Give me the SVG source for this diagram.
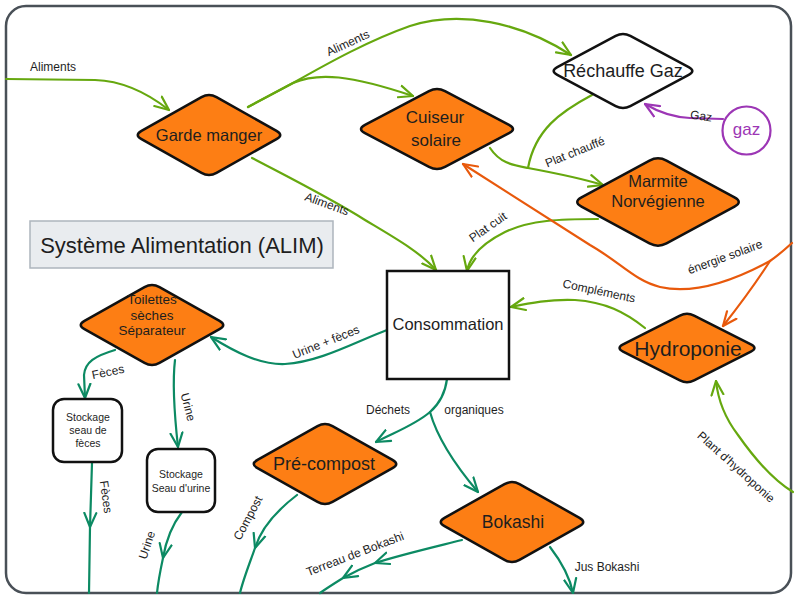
<svg xmlns="http://www.w3.org/2000/svg" width="800" height="601" viewBox="0 0 800 601">
<style>
text{font-family:"Liberation Sans",Arial,sans-serif;fill:#1e1e1e;}
.lbl{font-size:12px;text-anchor:middle;}
.nt{text-anchor:middle;}
.node{fill:#fd7e14;stroke:#111;stroke-width:2.5;stroke-linejoin:round;}
.wnode{fill:#fff;stroke:#111;stroke-width:2.5;stroke-linejoin:round;}
.e{fill:none;stroke-width:2.2;stroke-linecap:round;stroke-linejoin:round;}
.g{stroke:#66a80f;}
.t{stroke:#0c8a63;}
.r{stroke:#e8590c;}
.p{stroke:#9c36b5;}
</style>
<defs>
<marker id="ag" viewBox="0 0 16 16" refX="15" refY="8" markerWidth="16" markerHeight="16" markerUnits="userSpaceOnUse" orient="auto"><path d="M1,2 L15,8 L1,14" fill="none" stroke="#66a80f" stroke-width="2.2" stroke-linecap="round" stroke-linejoin="round"/></marker>
<marker id="at" viewBox="0 0 16 16" refX="15" refY="8" markerWidth="16" markerHeight="16" markerUnits="userSpaceOnUse" orient="auto"><path d="M1,2 L15,8 L1,14" fill="none" stroke="#0c8a63" stroke-width="2.2" stroke-linecap="round" stroke-linejoin="round"/></marker>
<marker id="ar" viewBox="0 0 16 16" refX="15" refY="8" markerWidth="16" markerHeight="16" markerUnits="userSpaceOnUse" orient="auto"><path d="M1,2 L15,8 L1,14" fill="none" stroke="#e8590c" stroke-width="2.2" stroke-linecap="round" stroke-linejoin="round"/></marker>
<marker id="ap" viewBox="0 0 16 16" refX="15" refY="8" markerWidth="16" markerHeight="16" markerUnits="userSpaceOnUse" orient="auto"><path d="M1,2 L15,8 L1,14" fill="none" stroke="#9c36b5" stroke-width="2.2" stroke-linecap="round" stroke-linejoin="round"/></marker>
</defs>
<rect x="0" y="0" width="800" height="601" fill="#fff"/>
<rect id="frame" x="6" y="6" width="785" height="587" rx="20" fill="#fff" stroke="#495057" stroke-width="2.5"/>

<g id="title">
<rect x="30" y="221" width="303" height="47" fill="#e9ecef" stroke="#adb5bd" stroke-width="1.5"/>
<text x="182" y="253" class="nt" font-size="22">Système Alimentation (ALIM)</text>
</g>

<g id="connectors">
<path class="e g" d="M6,79 L95,80 C125,81 150,95 169,110" marker-end="url(#ag)"/>
<text class="lbl" transform="translate(53,67)" dy="4">Aliments</text>

<path class="e g" d="M248,107 L293,83 C330,62 370,40 410,26 C460,10 520,22 571,55" marker-end="url(#ag)"/>
<text class="lbl" transform="translate(348,43) rotate(-25)" dy="4">Aliments</text>

<path class="e g" d="M248,107 L293,83 C318,72 350,75 413,96" marker-end="url(#ag)"/>

<path class="e g" d="M252,158 C290,178 330,198 365,220 C395,238 420,252 436,270" marker-end="url(#ag)"/>
<text class="lbl" transform="translate(327,204) rotate(20)" dy="4">Aliments</text>

<path class="e g" d="M592,95 C560,112 535,130 528,168"/>
<path class="e g" d="M490,148 C500,163 512,165 528,168 C555,173 580,178 603,185" marker-end="url(#ag)"/>
<text class="lbl" transform="translate(575,152) rotate(-22)" dy="4">Plat chauffé</text>

<path class="e g" d="M598,219 C560,219 530,220 505,232 C485,242 470,255 467,271" marker-end="url(#ag)"/>
<text class="lbl" transform="translate(488,227) rotate(-35)" dy="4">Plat cuit</text>

<path class="e r" d="M792,243 Q780,254 770,261 C735,280 695,295 660,287 C635,281 620,262 590,245 L463,164" marker-end="url(#ar)"/>
<path class="e r" d="M770,261 Q750,292 723,326" marker-end="url(#ar)"/>
<text class="lbl" transform="translate(725,257) rotate(-20)" dy="4">énergie solaire</text>

<path class="e g" d="M645,328 C625,312 605,302 575,300 C550,299 530,303 511,307" marker-end="url(#ag)"/>
<text class="lbl" transform="translate(599,291) rotate(12)" dy="4">Compléments</text>

<path class="e g" d="M793,492 C770,478 752,455 738,435 C725,418 718,400 716,381" marker-end="url(#ag)"/>
<text class="lbl" transform="translate(736,467) rotate(42)" dy="4">Plant d'hydroponie</text>

<path class="e p" d="M723,119 L690,118 C670,117 655,110 645,104" marker-end="url(#ap)"/>
<text class="lbl" transform="translate(701,117) rotate(8)" dy="3" font-size="9">Gaz</text>

<path class="e t" d="M387,330 C355,342 320,362 285,364 C260,365 235,352 211,337" marker-end="url(#at)"/>
<text class="lbl" transform="translate(326,342) rotate(-22)" dy="4">Urine + fèces</text>

<path class="e t" d="M115,350 C95,356 85,362 84,375 L85,398" marker-end="url(#at)"/>
<text class="lbl" transform="translate(108,372) rotate(-12)" dy="4">Fèces</text>

<path class="e t" d="M175,360 C172,385 175,420 178,447" marker-end="url(#at)"/>
<text class="lbl" transform="translate(188,407) rotate(75)" dy="4">Urine</text>

<path class="e t" d="M92,463 L90,527 L89,593" marker-mid="url(#at)"/>
<text class="lbl" transform="translate(106,497) rotate(82)" dy="4">Fèces</text>

<path class="e t" d="M182,512 C172,525 166,540 163,558 C160,572 158,583 157,593" marker-mid="url(#at)"/>
<text class="lbl" transform="translate(147,545) rotate(-72)" dy="4">Urine</text>

<path class="e t" d="M297,495 C280,508 262,525 255,548 C249,565 243,580 240,593" marker-mid="url(#at)"/>
<text class="lbl" transform="translate(248,518) rotate(-62)" dy="4">Compost</text>

<path class="e t" d="M447,379 C445,395 438,405 430,412 C415,425 395,432 376,442" marker-end="url(#at)"/>
<path class="e t" d="M430,412 C437,437 455,465 478,492" marker-end="url(#at)"/>
<text class="lbl" x="388" y="414">Déchets</text>
<text class="lbl" x="474" y="414">organiques</text>

<path class="e t" d="M462,540 C430,548 400,555 375,563 C362,568 352,573 343,578 C335,583 327,588 320,593" marker-mid="url(#at)"/>
<text class="lbl" transform="translate(355,554) rotate(-21)" dy="4">Terreau de Bokashi</text>

<path class="e t" d="M550,547 C560,560 570,578 573,593" marker-end="url(#at)"/>
<text class="lbl" x="607" y="571">Jus Bokashi</text>
</g>

<g id="garde-manger">
<path class="node" d="M141.5,130.8 L201.5,97.2 Q209,93 216.5,97.2 L276.5,130.8 Q284,135 276.5,139.2 L216.5,172.8 Q209,177 201.5,172.8 L141.5,139.2 Q134,135 141.5,130.8 Z"/>
<text x="209" y="141" class="nt" font-size="16.5">Garde manger</text>
</g>

<g id="cuiseur-solaire">
<path class="node" d="M365,124.8 L429,91.2 Q437,87 445,91.2 L509,124.8 Q517,129 509,133.2 L445,166.8 Q437,171 429,166.8 L365,133.2 Q357,129 365,124.8 Z"/>
<text x="435" y="123" class="nt" font-size="17">Cuiseur</text>
<text x="436" y="146" class="nt" font-size="17">solaire</text>
</g>

<g id="rechauffe-gaz">
<path class="wnode" d="M557.3,67.1 L615.7,35.9 Q623,32 630.3,35.9 L688.7,67.1 Q696,71 688.7,74.9 L630.3,106.1 Q623,110 615.7,106.1 L557.3,74.9 Q550,71 557.3,67.1 Z"/>
<text x="623" y="77" class="nt" font-size="18">Réchauffe Gaz</text>
</g>

<g id="gaz">
<circle cx="746.5" cy="130.5" r="24" fill="#fff" stroke="#9c36b5" stroke-width="2.2"/>
<text x="746.5" y="135" class="nt" font-size="17" style="fill:#9c36b5">gaz</text>
</g>

<g id="marmite">
<path class="node" d="M581.5,197.4 L649.5,160.6 Q658,156 666.5,160.6 L734.5,197.4 Q743,202 734.5,206.6 L666.5,243.4 Q658,248 649.5,243.4 L581.5,206.6 Q573,202 581.5,197.4 Z"/>
<text x="658" y="187" class="nt" font-size="16.5">Marmite</text>
<text x="658" y="207" class="nt" font-size="16.5">Norvégienne</text>
</g>

<g id="consommation">
<rect x="387" y="271" width="122" height="108" fill="#fff" stroke="#111" stroke-width="2.5"/>
<text x="448" y="330" class="nt" font-size="16.5">Consommation</text>
</g>

<g id="hydroponie">
<path class="node" d="M623.1,344.4 L679.9,315.6 Q687,312 694.1,315.6 L750.9,344.4 Q758,348 750.9,351.6 L694.1,380.4 Q687,384 679.9,380.4 L623.1,351.6 Q616,348 623.1,344.4 Z"/>
<text x="688" y="356" class="nt" font-size="21">Hydroponie</text>
</g>

<g id="toilettes">
<path class="node" d="M84.5,320.8 L144.5,287.2 Q152,283 159.5,287.2 L219.5,320.8 Q227,325 219.5,329.2 L159.5,362.8 Q152,367 144.5,362.8 L84.5,329.2 Q77,325 84.5,320.8 Z"/>
<text x="152" y="304" class="nt" font-size="13.5">Toilettes</text>
<text x="152" y="320" class="nt" font-size="13.5">sèches</text>
<text x="152" y="335" class="nt" font-size="13.5">Séparateur</text>
</g>

<g id="stockage-feces">
<rect x="53" y="399" width="69" height="63" rx="11" class="wnode"/>
<text x="88" y="421" class="nt" font-size="10.5">Stockage</text>
<text x="88" y="434" class="nt" font-size="10.5">seau de</text>
<text x="88" y="447" class="nt" font-size="10.5">fèces</text>
</g>

<g id="stockage-urine">
<rect x="147" y="449" width="68" height="63" rx="11" class="wnode"/>
<text x="181" y="478" class="nt" font-size="10.5">Stockage</text>
<text x="181" y="492" class="nt" font-size="10.5">Seau d'urine</text>
</g>

<g id="pre-compost">
<path class="node" d="M257.5,459.8 L317.5,426.2 Q325,422 332.5,426.2 L392.5,459.8 Q400,464 392.5,468.2 L332.5,501.8 Q325,506 317.5,501.8 L257.5,468.2 Q250,464 257.5,459.8 Z"/>
<text x="324" y="470" class="nt" font-size="18">Pré-compost</text>
</g>

<g id="bokashi">
<path class="node" d="M444.5,517.8 L504.5,484.2 Q512,480 519.5,484.2 L579.5,517.8 Q587,522 579.5,526.2 L519.5,559.8 Q512,564 504.5,559.8 L444.5,526.2 Q437,522 444.5,517.8 Z"/>
<text x="513" y="528" class="nt" font-size="17.5">Bokashi</text>
</g>
</svg>
